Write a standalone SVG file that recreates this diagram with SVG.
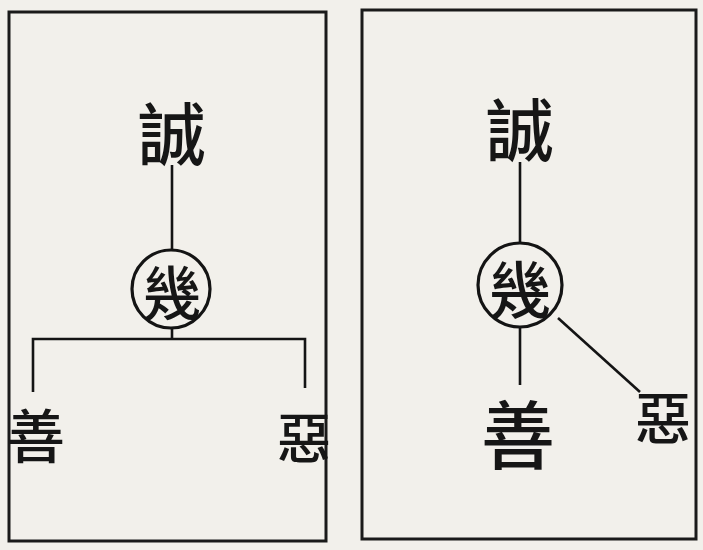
<svg xmlns="http://www.w3.org/2000/svg" width="703" height="550" viewBox="0 0 703 550">
<style>
.frame{fill:none;stroke:#1a1a1a;stroke-width:3}
.conn{fill:none;stroke:#141414;stroke-width:2.6}
.circ{fill:none;stroke:#141414;stroke-width:3.2}
.t{font-family:"Noto Sans CJK TC","Noto Sans CJK SC",sans-serif;fill:#161616;text-anchor:middle;dominant-baseline:central;font-weight:500}
</style>
<rect width="703" height="550" fill="#f2f0eb"/>
<g id="frames">
<rect class="frame" x="9" y="12" width="317" height="529"/>
<rect class="frame" x="362" y="10" width="334" height="529"/>
</g>
<g id="connectors">
<line class="conn" x1="172" y1="165" x2="172" y2="250"/>
<line class="conn" x1="172" y1="328" x2="172" y2="339"/>
<polyline class="conn" points="33,392 33,339 305,339 305,388"/>
<line class="conn" x1="520" y1="162" x2="520" y2="244"/>
<line class="conn" x1="520" y1="327" x2="520" y2="385"/>
<line class="conn" x1="558" y1="318" x2="640" y2="392"/>
</g>
<g id="left-cheng"><text class="t" x="172" y="130" font-size="68">誠</text></g>
<g id="left-ji"><circle class="circ" cx="171" cy="289" r="39"/><text class="t" x="172" y="290" font-size="58">幾</text></g>
<g id="left-shan"><text class="t" x="36" y="433" font-size="58">善</text></g>
<g id="left-e"><text class="t" x="304" y="435" font-size="54">惡</text></g>
<g id="right-cheng"><text class="t" x="520" y="126" font-size="68">誠</text></g>
<g id="right-ji"><circle class="circ" cx="520" cy="285" r="42"/><text class="t" x="520" y="287" font-size="62">幾</text></g>
<g id="right-shan"><text class="t" x="518" y="430" font-size="74">善</text></g>
<g id="right-e"><text class="t" x="663" y="414" font-size="56">惡</text></g>
</svg>
